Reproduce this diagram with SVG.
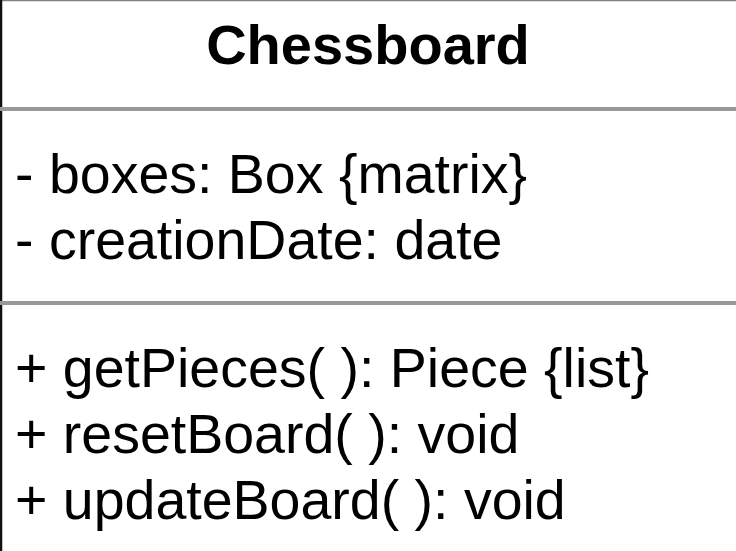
<svg xmlns="http://www.w3.org/2000/svg" width="736" height="551" viewBox="0 0 736 551">
  <style>
    .t { font-family: "Liberation Sans", Arial, Helvetica, sans-serif; font-size: 55.5px; fill: #000; }
    .title { font-weight: bold; font-size: 56px; text-anchor: middle; }
    .div { stroke: #999999; stroke-width: 4; fill: none; }
  </style>
  <rect x="0" y="0" width="736" height="551" fill="#ffffff"/>
  <g id="chessboard">
    <line x1="0" y1="0.5" x2="736" y2="0.5" stroke="#808080" stroke-width="1.5"/>
    <line x1="1" y1="0" x2="1" y2="551" stroke="#111111" stroke-width="2.5"/>
    <line class="div" x1="0" y1="109" x2="736" y2="109"/>
    <line class="div" x1="0" y1="303" x2="736" y2="303"/>
    <text class="t title" x="368" y="64">Chessboard</text>
    <text class="t" x="15" y="193">- boxes: Box {matrix}</text>
    <text class="t" x="15" y="259">- creationDate: date</text>
    <text class="t" x="15" y="387">+ getPieces( ): Piece {list}</text>
    <text class="t" x="15" y="453">+ resetBoard( ): void</text>
    <text class="t" x="15" y="519">+ updateBoard( ): void</text>
  </g>
  <g id="connectors"/>
</svg>
